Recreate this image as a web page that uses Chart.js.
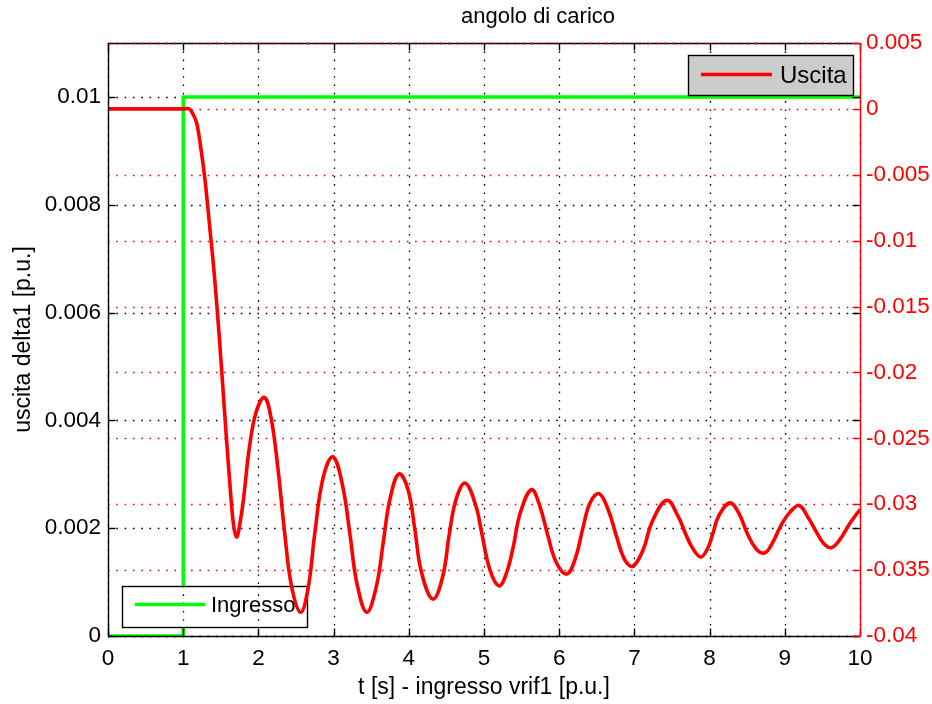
<!DOCTYPE html>
<html>
<head>
<meta charset="utf-8">
<script src="https://cdn.jsdelivr.net/npm/chart.js@4"></script>
<style>
  html, body { margin: 0; padding: 0; background: #ffffff; }
  #wrap { width: 932px; height: 704px; }
</style>
</head>
<body>
<div id="wrap"><canvas id="c" width="932" height="704"></canvas></div>
<script>
// load angle response (right axis) and reference step input (left axis)
const timeUscita = [0, 0.5, 1.0, 1.08, 1.13, 1.18, 1.24, 1.29, 1.35, 1.42, 1.49, 1.55,
  1.62, 1.67, 1.71, 1.75, 1.80, 1.88, 1.97, 2.08, 2.17, 2.26, 2.35, 2.44,
  2.56, 2.66, 2.75, 2.86, 2.99, 3.12, 3.22, 3.31, 3.44, 3.57,
  3.66, 3.75, 3.87, 3.99, 4.08, 4.17, 4.32, 4.45, 4.54, 4.63,
  4.75, 4.89, 4.97, 5.08, 5.20, 5.30, 5.39, 5.48, 5.63, 5.74,
  5.85, 5.96, 6.10, 6.21, 6.32, 6.41, 6.53, 6.65, 6.76, 6.87,
  6.98, 7.12, 7.23, 7.43, 7.58, 7.67, 7.76, 7.88, 7.97, 8.04,
  8.12, 8.27, 8.39, 8.50, 8.62, 8.73, 8.83, 8.95, 9.07, 9.19,
  9.31, 9.42, 9.52, 9.62, 9.73, 9.86, 10.0];
const uscita = [0, 0, 0, 0, -0.0004, -0.0011, -0.0032, -0.0054, -0.0088, -0.0130, -0.0181, -0.0230,
  -0.0284, -0.0316, -0.0325, -0.0316, -0.0297, -0.0257, -0.0230, -0.0219, -0.0235, -0.0273, -0.0322, -0.0362,
  -0.0382, -0.0364, -0.0322, -0.0280, -0.0264, -0.0286, -0.0324, -0.0360, -0.0382, -0.0362,
  -0.0329, -0.0296, -0.0277, -0.0289, -0.0319, -0.0352, -0.0372, -0.0355, -0.0322, -0.0296,
  -0.0284, -0.0301, -0.0322, -0.0350, -0.0362, -0.0352, -0.0332, -0.0307, -0.0289, -0.0301,
  -0.0324, -0.0344, -0.0353, -0.0342, -0.0317, -0.0299, -0.0292, -0.0304, -0.0324, -0.0342,
  -0.0347, -0.0334, -0.0314, -0.0297, -0.0309, -0.0321, -0.0332, -0.0340, -0.0334, -0.0323,
  -0.0309, -0.0299, -0.0307, -0.0322, -0.0334, -0.0337, -0.0330, -0.0316, -0.0306, -0.0301,
  -0.0310, -0.0321, -0.0330, -0.0333, -0.0327, -0.0315, -0.0304];

const timeIngresso = [0, 1, 10];
const ingresso = [0, 0.01, 0.01];

const xTicks = [0, 1, 2, 3, 4, 5, 6, 7, 8, 9, 10];
const xTickLabels = ['0', '1', '2', '3', '4', '5', '6', '7', '8', '9', '10'];
const leftTicks = [0, 0.002, 0.004, 0.006, 0.008, 0.01];
const leftTickLabels = ['0', '0.002', '0.004', '0.006', '0.008', '0.01'];
const rightTicks = [-0.04, -0.035, -0.03, -0.025, -0.02, -0.015, -0.01, -0.005, 0, 0.005];
const rightTickLabels = ['-0.04', '-0.035', '-0.03', '-0.025', '-0.02', '-0.015', '-0.01', '-0.005', '0', '0.005'];

const FONT = '"Liberation Sans", Arial, Helvetica, sans-serif';
const RED = '#ff0000';
const GREEN = '#00ff00';

function toPoints(xs, ys) { return xs.map((t, i) => ({ x: t, y: ys[i] })); }

function seg(ctx, x1, y1, x2, y2) {
  ctx.beginPath(); ctx.moveTo(x1, y1); ctx.lineTo(x2, y2); ctx.stroke();
}

function dotted(ctx, color) {
  ctx.strokeStyle = color;
  ctx.lineWidth = 1.3;
  ctx.setLineDash([1.6, 6.7]);
}

// MATLAB-like frame: dotted grid, inward ticks, box, title and the two legends
const matlabFrame = {
  id: 'matlabFrame',
  beforeDatasetsDraw(chart) {
    const { ctx, chartArea: a, scales } = chart;
    ctx.save();
    dotted(ctx, '#000');
    xTicks.forEach(t => {
      const px = Math.round(scales.x.getPixelForValue(t)) + 0.5;
      seg(ctx, px, a.top, px, a.bottom);
    });
    leftTicks.forEach(v => {
      const py = Math.round(scales.y.getPixelForValue(v)) + 0.5;
      seg(ctx, a.left, py, a.right, py);
    });
    dotted(ctx, RED);
    rightTicks.forEach(v => {
      const py = Math.round(scales.y2.getPixelForValue(v)) + 0.5;
      seg(ctx, a.left, py, a.right, py);
    });
    ctx.restore();
  },
  afterDatasetDraw(chart, args) {
    if (args.index !== 1) return;
    // "Ingresso" legend sits below the output curve
    const { ctx, chartArea: a, scales } = chart;
    const bx = a.left + 14, by = a.bottom - 50, bw = 185, bh = 41;
    ctx.save();
    ctx.fillStyle = '#ffffff';
    ctx.fillRect(bx, by, bw, bh);
    ctx.beginPath(); ctx.rect(bx, by, bw, bh); ctx.clip();
    dotted(ctx, '#000');
    xTicks.forEach(t => {
      const px = Math.round(scales.x.getPixelForValue(t)) + 0.5;
      seg(ctx, px, by, px, by + bh);
    });
    ctx.restore();
    ctx.save();
    ctx.strokeStyle = '#000'; ctx.lineWidth = 1.4; ctx.setLineDash([]);
    ctx.strokeRect(bx + 0.5, by + 0.5, bw, bh);
    ctx.strokeStyle = GREEN; ctx.lineWidth = 3.5;
    seg(ctx, bx + 13, by + 18.5, bx + 83, by + 18.5);
    ctx.fillStyle = '#000';
    ctx.font = '22px ' + FONT;
    ctx.textAlign = 'left'; ctx.textBaseline = 'middle';
    ctx.fillText('Ingresso', bx + 89, by + 20);
    ctx.restore();
  },
  afterDatasetsDraw(chart) {
    const { ctx, chartArea: a, scales } = chart;
    const TL = 7.5;
    ctx.save();
    ctx.setLineDash([]);
    ctx.lineWidth = 1.4;
    ctx.strokeStyle = '#000';
    // ticks of the time axis, bottom and top
    xTicks.forEach(t => {
      const px = Math.round(scales.x.getPixelForValue(t)) + 0.5;
      seg(ctx, px, a.bottom, px, a.bottom - TL);
      seg(ctx, px, a.top, px, a.top + TL);
    });
    // left axis ticks, on both sides
    leftTicks.forEach(v => {
      const py = Math.round(scales.y.getPixelForValue(v)) + 0.5;
      seg(ctx, a.left, py, a.left + TL, py);
      seg(ctx, a.right, py, a.right - TL, py);
    });
    // box
    seg(ctx, a.left + 0.5, a.top, a.left + 0.5, a.bottom + 0.5);
    seg(ctx, a.left, a.bottom + 0.5, a.right, a.bottom + 0.5);
    seg(ctx, a.left, a.top + 0.5, a.right, a.top + 0.5);
    // right axis in red
    ctx.strokeStyle = RED;
    seg(ctx, a.right + 0.5, a.top, a.right + 0.5, a.bottom + 1);
    rightTicks.forEach(v => {
      const py = Math.round(scales.y2.getPixelForValue(v)) + 0.5;
      seg(ctx, a.right, py, a.right - TL, py);
    });
    dotted(ctx, RED);
    seg(ctx, a.left, a.top + 0.5, a.right, a.top + 0.5);
    ctx.restore();

    // "Uscita" legend, upper right
    const bw = 165, bh = 40;
    const bx = a.right - 7 - bw, by = a.top + 12;
    ctx.save();
    ctx.fillStyle = '#cccccc';
    ctx.fillRect(bx, by, bw, bh);
    ctx.strokeStyle = '#000'; ctx.lineWidth = 1.4;
    ctx.strokeRect(bx + 0.5, by + 0.5, bw, bh);
    ctx.strokeStyle = RED; ctx.lineWidth = 3.5;
    seg(ctx, bx + 13, by + 19.5, bx + 84, by + 19.5);
    ctx.fillStyle = '#000';
    ctx.font = '24px ' + FONT;
    ctx.textAlign = 'left'; ctx.textBaseline = 'middle';
    ctx.fillText('Uscita', bx + 92, by + 21);

    // plot title
    ctx.font = '22px ' + FONT;
    ctx.textAlign = 'center'; ctx.textBaseline = 'middle';
    ctx.fillText('angolo di carico', 538, 17);
    ctx.restore();
  }
};

const tickFont = { family: FONT, size: 22.5, weight: 'normal', lineHeight: 1.2 };
const titleFont = { family: FONT, size: 23, weight: 'normal', lineHeight: 1.2 };

new Chart(document.getElementById('c'), {
  type: 'line',
  data: {
    datasets: [
      {
        label: 'Uscita',
        data: toPoints(timeUscita, uscita),
        yAxisID: 'y2',
        borderColor: RED,
        borderWidth: 3.6,
        pointRadius: 0,
        tension: 0.4,
        fill: false
      },
      {
        label: 'Ingresso',
        data: toPoints(timeIngresso, ingresso),
        yAxisID: 'y',
        borderColor: GREEN,
        borderWidth: 3.5,
        pointRadius: 0,
        stepped: 'before',
        fill: false
      }
    ]
  },
  options: {
    responsive: false,
    animation: false,
    devicePixelRatio: 1,
    layout: { padding: { top: 43, left: 0, right: 0, bottom: 0 } },
    plugins: {
      legend: { display: false },
      tooltip: { enabled: false },
      title: { display: false }
    },
    scales: {
      x: {
        type: 'linear',
        position: 'bottom',
        min: 0, max: 10,
        afterBuildTicks: s => { s.ticks = xTicks.map(v => ({ value: v })); },
        afterFit: s => { s.height = 68; },
        ticks: {
          callback: (v, i) => xTickLabels[i],
          color: '#000', font: tickFont, padding: 9,
          maxRotation: 0, autoSkip: false
        },
        grid: { display: false, drawTicks: false },
        border: { display: false },
        title: {
          display: true, text: 't [s] - ingresso vrif1 [p.u.]',
          color: '#000', font: titleFont, padding: { top: 0, bottom: 3 }
        }
      },
      y: {
        type: 'linear',
        position: 'left',
        min: 0, max: 0.011,
        afterBuildTicks: s => { s.ticks = leftTicks.map(v => ({ value: v })); },
        afterFit: s => { s.width = 108; },
        ticks: {
          callback: (v, i) => leftTickLabels[i],
          color: '#000', font: tickFont, padding: 7, autoSkip: false
        },
        grid: { display: false, drawTicks: false },
        border: { display: false },
        title: {
          display: true, text: 'uscita delta1 [p.u.]',
          color: '#000', font: titleFont, padding: { top: 10, bottom: 0 }
        }
      },
      y2: {
        type: 'linear',
        position: 'right',
        min: -0.04, max: 0.005,
        afterBuildTicks: s => { s.ticks = rightTicks.map(v => ({ value: v })); },
        afterFit: s => { s.width = 72; },
        ticks: {
          callback: (v, i) => rightTickLabels[i],
          color: RED, font: tickFont, padding: 6, autoSkip: false
        },
        grid: { display: false, drawTicks: false },
        border: { display: false }
      }
    }
  },
  plugins: [matlabFrame]
});
</script>
</body>
</html>
